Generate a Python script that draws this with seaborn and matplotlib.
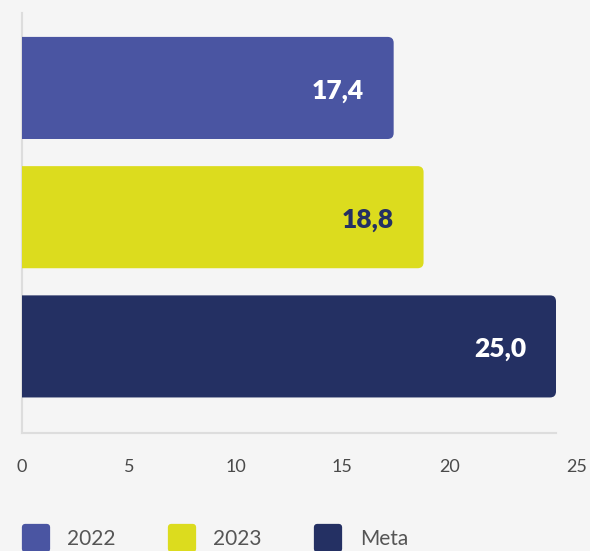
import matplotlib
matplotlib.use("Agg")
import matplotlib.pyplot as plt
import matplotlib.transforms as mtransforms
from matplotlib.patches import FancyBboxPatch
from matplotlib.lines import Line2D
from matplotlib.markers import MarkerStyle
import seaborn as sns
import pandas as pd

# values
categories = ["2022", "2023", "Meta"]
values = [17.4, 18.8, 25.0]
value_labels = ["17,4", "18,8", "25,0"]
bar_colors = ["#4a55a2", "#dcdc1e", "#243063"]
label_colors = ["white", "#243063", "white"]
x_ticks = [0, 5, 10, 15, 20, 25]

bg = "#f5f5f5"
sns.set_style("white")
plt.rcParams["font.family"] = ["Lato", "DejaVu Sans"]

df = pd.DataFrame({"cat": categories, "val": values})

fig = plt.figure(figsize=(5.9, 5.51), dpi=100, facecolor=bg)
ax = fig.add_axes([22 / 590, 118 / 551, 534 / 590, 420 / 551])
ax.set_facecolor(bg)

sns.barplot(data=df, x="val", y="cat", hue="cat", palette=bar_colors,
            saturation=1, orient="h", width=0.79, legend=False, ax=ax)

ax.set_xlim(0, 25)
ax.set_ylim(2.67, -0.58)

# rounded right corners: swap seaborn's rectangles for rounded boxes,
# started left of zero so the left corners get clipped by the axes
px_x = 534 / 25.0
px_y = 420 / 3.25
r = 6 / px_x
for p in list(ax.patches):
    x0, y0 = p.get_x(), p.get_y()
    w, h = p.get_width(), p.get_height()
    col = p.get_facecolor()
    p.set_visible(False)
    ax.add_patch(FancyBboxPatch((x0 - 2 * r, y0), w + 2 * r, h,
                                boxstyle=f"round,pad=0,rounding_size={r}",
                                mutation_aspect=px_x / px_y,
                                fc=col, ec="none", zorder=2))

for i, (v, lab) in enumerate(zip(values, value_labels)):
    ax.annotate(lab, (v, i), xytext=(-21.6, -2), textcoords="offset points",
                ha="right", va="center", fontsize=19, fontweight="heavy",
                color=label_colors[i], zorder=3)

for s in ["top", "right"]:
    ax.spines[s].set_visible(False)
for s in ["left", "bottom"]:
    ax.spines[s].set_color("#dddddd")
    ax.spines[s].set_linewidth(1.5)
    ax.spines[s].set_zorder(1)

ax.set_xticks(x_ticks)
ax.set_xticklabels([str(t) for t in x_ticks])
ax.tick_params(axis="x", length=0, pad=19, labelsize=13, labelcolor="#4a4a4a")
ax.set_yticks([])
ax.set_xlabel("")
ax.set_ylabel("")

# last label sits further right in the reference
lbl = ax.get_xticklabels()[-1]
lbl.set_transform(lbl.get_transform() + mtransforms.ScaledTranslation(21 / 100, 0, fig.dpi_scale_trans))

handles = [Line2D([], [], linestyle="none",
                  marker=MarkerStyle("s", joinstyle="round"),
                  markersize=15.5, markerfacecolor=c, markeredgecolor=c,
                  markeredgewidth=4.5)
           for c in bar_colors]
fig.legend(handles, categories, loc="center left",
           bbox_to_anchor=(22 / 590, 12 / 551), ncol=3, frameon=False,
           fontsize=15, labelcolor="#555555", handlelength=1.3,
           handletextpad=0.85, columnspacing=2.55, borderpad=0,
           borderaxespad=0, numpoints=1)

fig.savefig("out.png", dpi=100, facecolor=bg)
